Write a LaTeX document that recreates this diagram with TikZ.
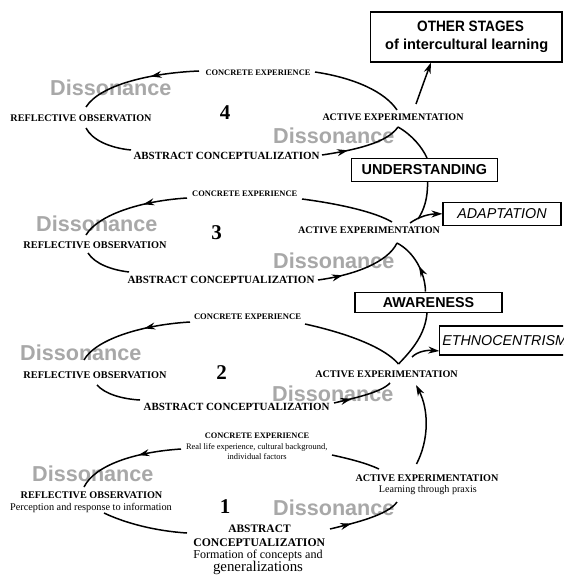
\documentclass[tikz,border=0pt]{standalone}
\usepackage{fontspec}
\setmainfont{Liberation Serif}
\newfontfamily\arialf{Liberation Sans}
\usetikzlibrary{arrows.meta,decorations.markings}
\newcommand{\fw}[2]{\resizebox{#1pt}{!}{#2}}
\newcommand{\fwh}[3]{\resizebox{#1pt}{#2pt}{#3}}
\definecolor{dissgray}{RGB}{168,168,168}
\begin{document}
\begin{tikzpicture}[x=1pt,y=-1pt,
  lab/.style={inner sep=0pt, font=\bfseries},
  sub/.style={inner sep=0pt},
  diss/.style={inner sep=0pt, anchor=base west, text=dissgray, font=\arialf\bfseries\fontsize{21.6}{24}\selectfont},
  num/.style={inner sep=0pt, font=\bfseries\fontsize{21}{24}\selectfont},
  cyc/.style={line width=1.5pt},
  stagebox/.style={draw, line width=1.1pt, inner sep=0pt},
  tip/.style={-{Stealth[length=11pt,width=7pt]}},
  midarr/.style={postaction={decorate}, decoration={markings, mark=at position #1 with {\arrow{Stealth[length=11pt,width=7pt]}}}},
]
\useasboundingbox (0,0) rectangle (563,575);
\fill[white] (0,0) rectangle (563,575);
\clip (0,0) rectangle (563,575);

% Dissonance labels (background)
\node[diss] (d4l) at (50,95.5) {Dissonance};
\node[diss] (d4r) at (273,143.5) {Dissonance};
\node[diss] (d3l) at (36,231.7) {Dissonance};
\node[diss] (d3r) at (273,268) {Dissonance};
\node[diss] (d2l) at (20,360) {Dissonance};
\node[diss] (d2r) at (272,401.5) {Dissonance};
\node[diss] (d1l) at (32,481) {Dissonance};
\node[diss] (d1r) at (273,515.5) {Dissonance};

% stage boxes
\node[stagebox, minimum width=191.3pt, minimum height=50pt] (other) at (466.3,37) {};
\node[sub] (ot1) at (470.5,26.5) {\fwh{106.7}{10.5}{\arialf\bfseries OTHER STAGES}};
\node[sub] (ot2) at (466.7,46) {\fwh{163}{10.5}{\arialf\bfseries of intercultural learning}};
\node[stagebox, minimum width=145.5pt, minimum height=22.5pt, font=\arialf\bfseries\fontsize{14.4}{16}\selectfont] (und) at (424.3,169.8) {UNDERSTANDING};
\node[stagebox, minimum width=118pt, minimum height=23.5pt, font=\arialf\itshape\fontsize{14.3}{16}\selectfont] (adapt) at (502,213.8) {ADAPTATION};
\node[stagebox, minimum width=147pt, minimum height=20.5pt, font=\arialf\bfseries\fontsize{14.3}{16}\selectfont] (aware) at (428.5,302.3) {AWARENESS};
\node[stagebox, anchor=west, minimum height=29pt, inner xsep=2.4pt, font=\arialf\itshape\fontsize{14.3}{16}\selectfont] (eth) at (439.3,340.5) {ETHNOCENTRISM};

% cycle 4
\node[lab] (ce4) at (258,72.3) {\fw{105}{CONCRETE EXPERIENCE}};
\node[lab] (ro4) at (81,118) {\fw{141}{REFLECTIVE OBSERVATION}};
\node[lab] (ae4) at (393,117.3) {\fw{141}{ACTIVE EXPERIMENTATION}};
\node[lab] (ac4) at (226.5,156) {\fw{186}{ABSTRACT CONCEPTUALIZATION}};
\node[num] (n4) at (225,113) {4};

% cycle 3
\node[lab] (ce3) at (244.7,194) {\fw{105}{CONCRETE EXPERIENCE}};
\node[lab] (ro3) at (95,245) {\fw{143}{REFLECTIVE OBSERVATION}};
\node[lab] (ae3) at (369,230) {\fw{142}{ACTIVE EXPERIMENTATION}};
\node[lab] (ac3) at (221,280) {\fw{187}{ABSTRACT CONCEPTUALIZATION}};
\node[num] (n3) at (216.5,232.5) {3};

% cycle 2
\node[lab] (ce2) at (247.5,317) {\fw{107}{CONCRETE EXPERIENCE}};
\node[lab] (ro2) at (95,375.5) {\fw{143}{REFLECTIVE OBSERVATION}};
\node[lab] (ae2) at (386.5,374) {\fw{142.5}{ACTIVE EXPERIMENTATION}};
\node[lab] (ac2) at (236.6,407.3) {\fw{186}{ABSTRACT CONCEPTUALIZATION}};
\node[num] (n2) at (221.7,373) {2};

% cycle 1
\node[lab] (ce1) at (257,435.5) {\fw{104.3}{CONCRETE EXPERIENCE}};
\node[sub] (ce1a) at (256.7,447) {\fw{141.3}{Real life experience, cultural background,}};
\node[sub] (ce1b) at (257,457) {\fw{59.3}{individual factors}};
\node[lab] (ro1) at (91.5,495.3) {\fw{141.7}{REFLECTIVE OBSERVATION}};
\node[sub] (ro1a) at (91,507.5) {\fw{161.7}{Perception and response to information}};
\node[lab] (ae1) at (427,478.3) {\fw{143}{ACTIVE EXPERIMENTATION}};
\node[sub] (ae1a) at (427.8,490) {\fw{98}{Learning through praxis}};
\node[lab] (ac1a) at (259.5,528.3) {\fw{62.3}{ABSTRACT}};
\node[lab] (ac1b) at (259.2,542.7) {\fw{131.7}{CONCEPTUALIZATION}};
\node[sub, align=center, font=\fontsize{10}{12}\selectfont] (ac1c) at (258,562.3) {\fw{129.3}{Formation of concepts and}\\\fw{90}{generalizations}};
\node[num] (n1) at (225,507) {1};

% connector end points
\coordinate (p4a) at (199,71);   \coordinate (p4b) at (86,107);
\coordinate (p4c) at (86,128);   \coordinate (p4d) at (131,150);
\coordinate (p4e) at (322,155);  \coordinate (p4f) at (398,127);
\coordinate (p4g) at (315,72);   \coordinate (p4h) at (397,110);
\coordinate (p4i) at (416,104);
\coordinate (p3j) at (418,219);  \coordinate (p3k) at (410,223);
\coordinate (p3a) at (187,198);  \coordinate (p3b) at (86,235);
\coordinate (p3c) at (88,253);   \coordinate (p3d) at (129,272);
\coordinate (p3e) at (318,280);  \coordinate (p3f) at (397,243);
\coordinate (p3g) at (302,199);  \coordinate (p3h) at (392,222);
\coordinate (p2a) at (190,322);  \coordinate (p2b) at (84,360);
\coordinate (p2c) at (97,385);   \coordinate (p2d) at (140,400);
\coordinate (p2e) at (334,403);  \coordinate (p2f) at (390,383);
\coordinate (p2g) at (305,324);  \coordinate (p2h) at (398.5,364);
\coordinate (p2i) at (412,357);
\coordinate (p1a) at (181,449);  \coordinate (p1b) at (84,487);
\coordinate (p1c) at (104,513);  \coordinate (p1d) at (187,533);
\coordinate (p1e) at (330,529);  \coordinate (p1f) at (397,502);
\coordinate (p1g) at (332,455);  \coordinate (p1h) at (379,469);
\coordinate (p1i) at (416.5,464); \coordinate (p1j) at (416,385);

% cycle 4 arcs
\draw[cyc, midarr=0.4] (p4a) .. controls (150,73) and (100,85) .. (p4b);
\draw[cyc] (p4c) .. controls (92,140) and (110,148) .. (p4d);
\draw[cyc, midarr=0.32] (p4e) .. controls (355,150) and (387,143) .. (p4f);
\draw[cyc] (p4g) .. controls (355,78) and (385,92) .. (p4h);
\draw[cyc, tip] (p4i) .. controls (421,90) and (426,76) .. (other.south -| 431,0);
\draw[cyc] (p4f) .. controls (412,135) and (422,147) .. (und.north -| 427,0);
\draw[cyc] (und.south -| 427.5,0) .. controls (428,198) and (424,210) .. (p3j);
\draw[cyc, tip] (p3k) .. controls (420,216) and (430,214) .. (adapt.west);

% cycle 3 arcs
\draw[cyc, midarr=0.4] (p3a) .. controls (140,201) and (98,215) .. (p3b);
\draw[cyc] (p3c) .. controls (95,264) and (112,270) .. (p3d);
\draw[cyc, midarr=0.28] (p3e) .. controls (355,275) and (388,262) .. (p3f);
\draw[cyc] (p3g) .. controls (340,204) and (375,212) .. (p3h);
\draw[cyc, midarr=0.45] (aware.north -| 425.5,0) .. controls (425,272) and (414,252) .. (p3f);

% cycle 2 arcs
\draw[cyc, midarr=0.4] (p2a) .. controls (140,325) and (95,340) .. (p2b);
\draw[cyc] (p2c) .. controls (105,394) and (122,399) .. (p2d);
\draw[cyc, midarr=0.3] (p2e) .. controls (355,398) and (382,392) .. (p2f);
\draw[cyc] (p2g) .. controls (350,334) and (385,348) .. (p2h);
\draw[cyc] (p2h) .. controls (412,350) and (425,335) .. (aware.south -| 427,0);
\draw[cyc, tip] (p2i) .. controls (418,351) and (428,350) .. (eth.west |- 0,351);

% cycle 1 arcs
\draw[cyc, midarr=0.4] (p1a) .. controls (135,452) and (95,465) .. (p1b);
\draw[cyc] (p1c) .. controls (125,523) and (155,531) .. (p1d);
\draw[cyc, midarr=0.3] (p1e) .. controls (355,523) and (388,515) .. (p1f);
\draw[cyc] (p1g) .. controls (350,459) and (366,463) .. (p1h);
\draw[cyc, tip] (p1i) .. controls (429,440) and (429,410) .. (p1j);
\end{tikzpicture}
\end{document}
